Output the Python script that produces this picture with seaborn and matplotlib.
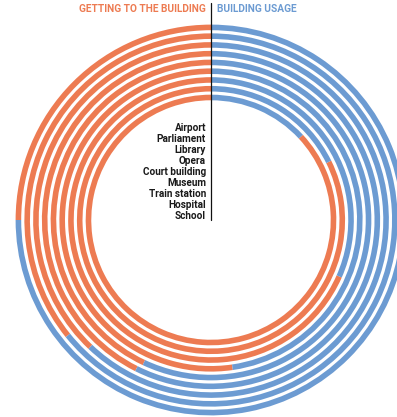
import numpy as np
import matplotlib
matplotlib.use("Agg")
import matplotlib.pyplot as plt
from matplotlib.patches import Wedge
import seaborn as sns

# data: share of "getting to the building" (%) per building, outer ring -> inner ring
buildings = ["Airport", "Parliament", "Library", "Opera", "Court building",
             "Museum", "Train station", "Hospital", "School"]
getting_share = [25.0, 35.8, 37.9, 42.6, 43.0, 52.3, 68.4, 82.3, 86.9]
usage_share = [100 - v for v in getting_share]

orange = "#ED7B52"
blue = "#6C9BD2"

sns.set_theme(style="white")
plt.rcParams['font.family'] = ['Roboto', 'DejaVu Sans']

W, H = 397, 417
fig = plt.figure(figsize=(W / 100, H / 100), dpi=100)
ax = fig.add_axes([0, 0, 1, 1])
ax.set_xlim(0, W)
ax.set_ylim(0, H)
ax.axis("off")

#1. rings
cx, cy = 211, H - 220
r_outer = 192.6
step = 8.76
band = 5.6
for i, (g, u) in enumerate(zip(getting_share, usage_share)):
    r = r_outer - i * step + band / 2
    split = 90 + g / 100 * 360
    ax.add_patch(Wedge((cx, cy), r, 90, split, width=band, color=orange, lw=0))
    ax.add_patch(Wedge((cx, cy), r, split, 450, width=band, color=blue, lw=0))

#2. divider and headings
ax.plot([cx, cx], [H - 3, H - 220], color="#111111", lw=0.9)
ax.text(cx - 5, H - 9, "GETTING TO THE BUILDING", color=orange, fontsize=7.3,
        fontweight="bold", ha="right", va="center")
ax.text(cx + 6, H - 9, "BUILDING USAGE", color=blue, fontsize=7.3,
        fontweight="bold", ha="left", va="center")

#3. building labels
for i, name in enumerate(buildings):
    ax.text(cx - 5, H - (128.3 + i * 11), name, color="#1a1a1a", fontsize=7.2,
            fontweight="bold", ha="right", va="center")

fig.savefig("out.png", dpi=100)
